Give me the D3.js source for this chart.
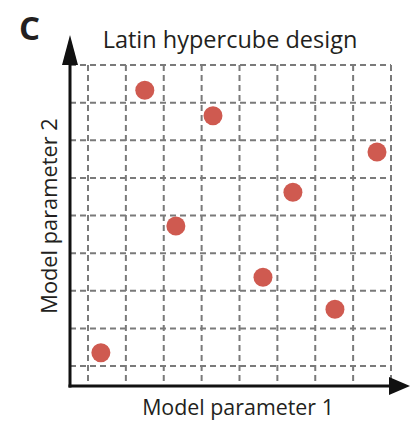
<!DOCTYPE html>
<html>
<head>
<meta charset="utf-8">
<script src="https://cdn.jsdelivr.net/npm/d3@7"></script>
<style>
  body { margin: 0; background: #fff; }
  svg text { font-family: "Open Sans", "Noto Sans", sans-serif; fill: #231f20; }
</style>
</head>
<body>
<div id="chart"></div>
<script>
// one sample per row and per column (8 x 8 grid)
const gridLines = [0, 1, 2, 3, 4, 5, 6, 7, 8];
const param1 = [0.34, 1.5, 3.3, 2.32, 5.41, 4.62, 6.52, 7.63];
const param2 = [0.35, 7.33, 6.65, 3.72, 4.62, 2.36, 1.51, 5.69];

const w = 410, h = 421;
const axisX = 70, axisY = 386;

const svg = d3.select("#chart").append("svg")
  .attr("width", w)
  .attr("height", h);

const xScale = d3.scaleLinear().domain([0, 8]).range([88, 391]);
const yScale = d3.scaleLinear().domain([0, 8]).range([366, 65]);

const gridStyle = sel => sel
  .attr("stroke", "#7a7a7a")
  .attr("stroke-width", 2)
  .attr("stroke-dasharray", "6,4");

// dashed grid
svg.append("g").selectAll("line.v")
  .data(gridLines)
  .enter().append("line")
  .attr("x1", d => xScale(d)).attr("x2", d => xScale(d))
  .attr("y1", yScale(8)).attr("y2", axisY)
  .call(gridStyle);

svg.append("g").selectAll("line.h")
  .data(gridLines)
  .enter().append("line")
  .attr("x1", axisX).attr("x2", xScale(8))
  .attr("y1", d => yScale(d)).attr("y2", d => yScale(d))
  .call(gridStyle);

// axes with arrow heads
svg.append("line")
  .attr("x1", axisX).attr("x2", axisX)
  .attr("y1", axisY + 1.5).attr("y2", 60)
  .attr("stroke", "#111").attr("stroke-width", 3);
svg.append("line")
  .attr("x1", axisX - 1.5).attr("x2", 392)
  .attr("y1", axisY).attr("y2", axisY)
  .attr("stroke", "#111").attr("stroke-width", 3);
svg.append("path")
  .attr("d", `M${axisX - 8},65 L${axisX},35 L${axisX + 8},65 Z`)
  .attr("fill", "#111");
svg.append("path")
  .attr("d", `M389,${axisY - 9} L410,${axisY} L389,${axisY + 9} Z`)
  .attr("fill", "#111");

// samples
svg.append("g").selectAll("circle")
  .data(param1.map((v, i) => [v, param2[i]]))
  .enter().append("circle")
  .attr("cx", d => xScale(d[0]))
  .attr("cy", d => yScale(d[1]))
  .attr("r", 9.5)
  .attr("fill", "#cf5a50");

// text
svg.append("text")
  .attr("x", 19).attr("y", 40)
  .attr("font-size", 33).attr("font-weight", "bold")
  .text("C");

svg.append("text")
  .attr("x", 230).attr("y", 48)
  .attr("text-anchor", "middle")
  .attr("font-size", 23.5)
  .text("Latin hypercube design");

svg.append("text")
  .attr("x", 238).attr("y", 415)
  .attr("text-anchor", "middle")
  .attr("font-size", 21.4)
  .text("Model parameter 1");

svg.append("text")
  .attr("transform", "translate(57,216) rotate(-90)")
  .attr("text-anchor", "middle")
  .attr("font-size", 21.8)
  .text("Model parameter 2");
</script>
</body>
</html>
